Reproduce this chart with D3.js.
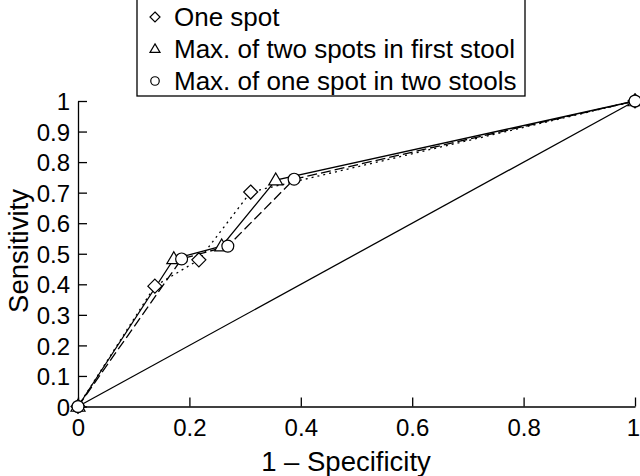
<html>
<head>
    <script src="https://d3js.org/d3.v7.min.js"></script>
    <style type="text/css">
        body { margin: 0; background: #fff; }
        text { font-family: "Liberation Sans", Arial, sans-serif; fill: #000; }
        .axis path, .axis line { stroke: #000; stroke-width: 1.3; }
        .curve { fill: none; stroke: #000; stroke-width: 1.3; }
        .mark { fill: #fff; stroke: #000; stroke-width: 1.2; }
    </style>
</head>
<body>
    <svg id="roc"></svg>
    <script>
        var Width = 640, Height = 476;

        // data: 1 - specificity and sensitivity
        var oneSpotX = [0, 0.138, 0.217, 0.31, 1];
        var oneSpotY = [0, 0.394, 0.48, 0.702, 1];
        var twoSpotsX = [0, 0.172, 0.258, 0.355, 1];
        var twoSpotsY = [0, 0.483, 0.525, 0.741, 1];
        var twoStoolsX = [0, 0.186, 0.269, 0.388, 1];
        var twoStoolsY = [0, 0.483, 0.525, 0.744, 1];
        var chanceX = [0, 1];
        var chanceY = [0, 1];

        var seriesNames = ["One spot", "Max. of two spots in first stool", "Max. of one spot in two stools"];
        var xTicks = [0, 0.2, 0.4, 0.6, 0.8, 1];
        var xTickLabels = ["0", "0.2", "0.4", "0.6", "0.8", "1"];
        var yTicks = [0, 0.1, 0.2, 0.3, 0.4, 0.5, 0.6, 0.7, 0.8, 0.9, 1];
        var yTickLabels = ["0", "0.1", "0.2", "0.3", "0.4", "0.5", "0.6", "0.7", "0.8", "0.9", "1"];

        var x = d3.scaleLinear().domain([0, 1]).range([78, 635]);
        var y = d3.scaleLinear().domain([0, 1]).range([406.5, 101]);

        var svg = d3.select("#roc").attr("width", Width).attr("height", Height);

        function zip(xs, ys) {
            return xs.map(function(v, i){ return [v, ys[i]]; });
        }

        var series = [
            { name: seriesNames[0], pts: zip(oneSpotX, oneSpotY), dash: "2,4", shape: "diamond" },
            { name: seriesNames[1], pts: zip(twoSpotsX, twoSpotsY), dash: null, shape: "triangle" },
            { name: seriesNames[2], pts: zip(twoStoolsX, twoStoolsY), dash: "10,4", shape: "circle" }
        ];

        // axes, ticks pointing inward
        var xAxis = d3.axisBottom(x).tickValues(xTicks)
            .tickFormat(function(d, i){ return xTickLabels[i]; })
            .tickSizeInner(-9).tickSizeOuter(0).tickPadding(12);
        var yAxis = d3.axisLeft(y).tickValues(yTicks)
            .tickFormat(function(d, i){ return yTickLabels[i]; })
            .tickSizeInner(-9).tickSizeOuter(0).tickPadding(8);

        var gx = svg.append("g").attr("class", "axis")
            .attr("transform", "translate(0," + y(0) + ")").call(xAxis);
        gx.selectAll("text").attr("font-size", 24).attr("dy", "0.71em")
            .attr("dx", function(d, i){ return i === xTicks.length - 1 ? -2 : 0; });

        var gy = svg.append("g").attr("class", "axis")
            .attr("transform", "translate(" + x(0) + ",0)").call(yAxis);
        gy.selectAll("text").attr("font-size", 24).attr("dy", "0.36em");

        svg.selectAll(".axis text").attr("font-family", "Liberation Sans, Arial, sans-serif");

        svg.append("text").attr("x", 346).attr("y", 471)
            .attr("text-anchor", "middle").attr("font-size", 27.5)
            .text("1 \u2013 Specificity");

        svg.append("text")
            .attr("transform", "translate(28," + 251 + ") rotate(-90)")
            .attr("text-anchor", "middle").attr("font-size", 27.5)
            .text("Sensitivity");

        // chance diagonal
        var line = d3.line()
            .x(function(d){ return x(d[0]); })
            .y(function(d){ return y(d[1]); });

        svg.append("path").attr("class", "curve").attr("stroke-width", 1.1)
            .attr("d", line(zip(chanceX, chanceY)));

        series.forEach(function(s){
            svg.append("path").attr("class", "curve")
                .attr("stroke-dasharray", s.dash)
                .attr("d", line(s.pts));
        });

        function drawMark(g, shape, cx, cy, size) {
            if (shape === "diamond") {
                g.append("path").attr("class", "mark")
                    .attr("d", "M" + cx + "," + (cy - size) + "L" + (cx + size) + "," + cy +
                        "L" + cx + "," + (cy + size) + "L" + (cx - size) + "," + cy + "Z");
            } else if (shape === "triangle") {
                var h = size * 1.7;
                g.append("path").attr("class", "mark")
                    .attr("d", "M" + cx + "," + (cy - h * 0.6) + "L" + (cx + size) + "," + (cy + h * 0.4) +
                        "L" + (cx - size) + "," + (cy + h * 0.4) + "Z");
            } else {
                g.append("circle").attr("class", "mark")
                    .attr("cx", cx).attr("cy", cy).attr("r", size * 0.85);
            }
        }

        var marks = svg.append("g");
        series.forEach(function(s){
            s.pts.forEach(function(p){
                drawMark(marks, s.shape, x(p[0]), y(p[1]), 7);
            });
        });

        // legend
        var legend = svg.append("g");
        legend.append("rect")
            .attr("x", 137).attr("y", -2).attr("width", 388).attr("height", 98)
            .attr("fill", "#fff").attr("stroke", "#000").attr("stroke-width", 1.3);

        series.forEach(function(s, i){
            var cy = 17 + i * 32;
            drawMark(legend, s.shape, 155, cy, 5);
            legend.append("text").attr("x", 174).attr("y", cy + 9)
                .attr("font-size", 26).text(s.name);
        });
    </script>
</body>
</html>
